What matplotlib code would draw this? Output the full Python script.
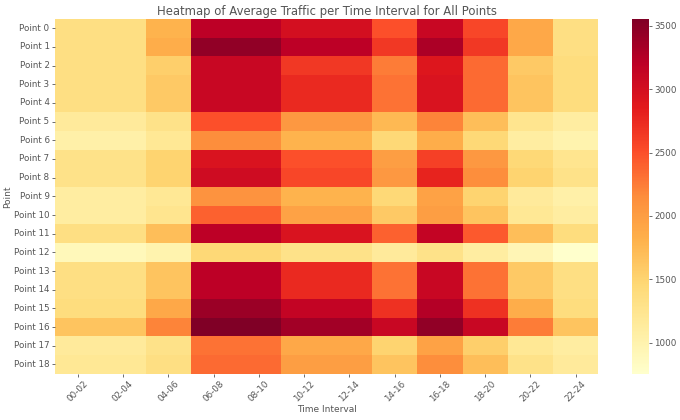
import numpy as np
import pandas as pd
import seaborn as sns
import matplotlib.pyplot as plt

points = [f'Point {i}' for i in range(19)]
intervals = ['00-02', '02-04', '04-06', '06-08', '08-10', '10-12',
             '12-14', '14-16', '16-18', '18-20', '20-22', '22-24']

# average traffic, one row per point
traffic = [
    [1350, 1350, 1800, 3200, 3200, 3000, 3000, 2500, 3100, 2550, 1900, 1350],
    [1350, 1350, 1850, 3450, 3450, 3200, 3200, 2650, 3300, 2650, 1900, 1350],
    [1350, 1350, 1550, 3100, 3100, 2650, 2650, 2250, 2900, 2350, 1600, 1400],
    [1350, 1350, 1600, 3100, 3100, 2750, 2750, 2300, 2950, 2350, 1650, 1400],
    [1350, 1350, 1600, 3100, 3100, 2750, 2750, 2300, 2950, 2350, 1650, 1400],
    [1150, 1150, 1300, 2500, 2500, 2050, 2050, 1750, 2200, 1700, 1250, 1100],
    [1050, 1050, 1200, 2150, 2150, 1800, 1800, 1450, 1850, 1450, 1100, 1000],
    [1300, 1300, 1500, 2950, 2950, 2500, 2500, 2000, 2600, 2050, 1450, 1250],
    [1300, 1300, 1500, 3050, 3050, 2550, 2550, 2050, 2800, 2150, 1500, 1300],
    [1100, 1100, 1200, 2100, 2100, 1800, 1800, 1450, 1950, 1500, 1150, 1050],
    [1100, 1100, 1250, 2400, 2400, 1950, 1950, 1600, 2000, 1650, 1200, 1100],
    [1350, 1350, 1700, 3200, 3200, 2950, 2950, 2400, 3150, 2450, 1700, 1400],
    [900, 900, 1000, 1450, 1450, 1300, 1300, 1150, 1300, 1100, 950, 755],
    [1350, 1350, 1650, 3200, 3200, 2750, 2750, 2300, 3100, 2300, 1600, 1350],
    [1350, 1350, 1650, 3200, 3200, 2750, 2750, 2300, 3100, 2300, 1600, 1350],
    [1400, 1400, 1900, 3400, 3400, 3150, 3150, 2700, 3250, 2700, 1850, 1400],
    [1650, 1650, 2200, 3555, 3555, 3350, 3350, 3100, 3450, 3100, 2250, 1650],
    [1150, 1150, 1300, 2300, 2300, 1900, 1900, 1500, 1950, 1550, 1200, 1100],
    [1200, 1200, 1350, 2350, 2350, 2000, 2000, 1650, 2150, 1700, 1300, 1150],
]

df = pd.DataFrame(traffic, index=points, columns=intervals)

grey = '#555555'
plt.rcParams['text.color'] = grey
plt.rcParams['axes.labelcolor'] = grey
plt.rcParams['xtick.color'] = grey
plt.rcParams['ytick.color'] = grey

fig = plt.figure(figsize=(6.8, 4.2), dpi=100)
ax = fig.add_axes([0.081, 0.11, 0.799, 0.845])
cax = fig.add_axes([0.929, 0.11, 0.025, 0.845])
sns.heatmap(df, cmap='YlOrRd', ax=ax, cbar_ax=cax)
cax.tick_params(labelsize=6.3, length=2, width=0.6, pad=2)
for s in cax.spines.values():
    s.set_visible(False)

ax.set_title('Heatmap of Average Traffic per Time Interval for All Points', fontsize=8.4, pad=3)
ax.set_xlabel('Time Interval', fontsize=6.5, labelpad=1)
ax.set_ylabel('Point', fontsize=6.5, labelpad=1)
ax.tick_params(labelsize=6.3, length=2, width=0.6, pad=2)
plt.setp(ax.get_xticklabels(), rotation=45)
plt.setp(ax.get_yticklabels(), rotation=0)

fig.savefig('out.png', dpi=100)
